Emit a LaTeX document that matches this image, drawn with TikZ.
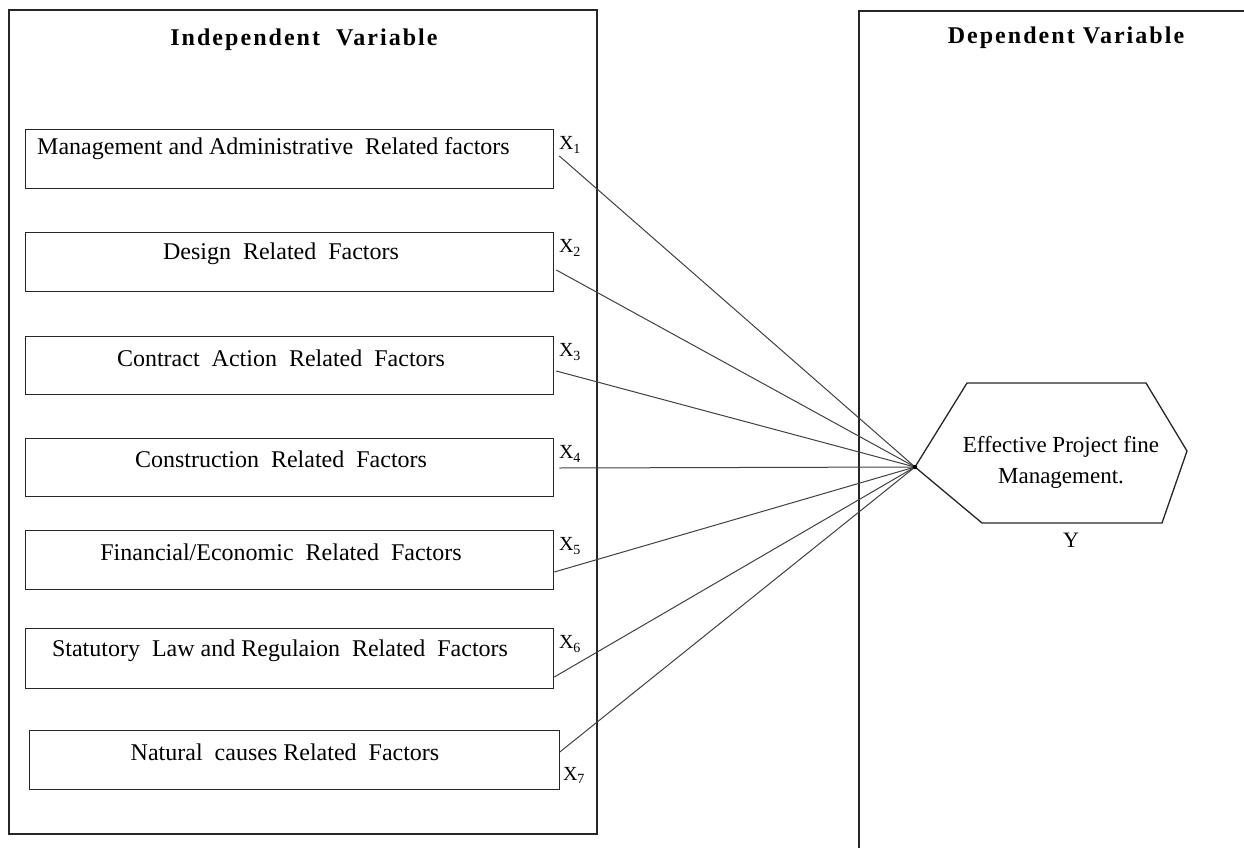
\documentclass[tikz,border=0pt]{standalone}
\usepackage{fontspec}
\setmainfont{Liberation Serif}
\newfontfamily\titlefont[LetterSpace=8.5]{Liberation Serif}
\usetikzlibrary{calc}
\begin{document}
\begin{tikzpicture}[x=1pt,y=-1pt,
  frame/.style={draw=black!85,line width=1.3pt},
  factor/.style={draw=black!85,line width=1.3pt,rectangle,inner sep=0pt,anchor=north west},
  ftext/.style={font=\fontsize{24}{28}\selectfont,inner sep=0pt},
  xlab/.style={font=\fontsize{20}{22}\selectfont,inner sep=0pt},
  title/.style={font=\titlefont\bfseries\fontsize{24}{28}\selectfont,inner sep=0pt},
  link/.style={draw=black!75,line width=1pt}]
\useasboundingbox (0,0) rectangle (1244,848);
% outer frames
\draw[frame] (9,10) rectangle (597,834);
\draw[frame] (859,860) -- (859,11) -- (1260,11);
\node[title] (tI) at (304,40) {Independent\ \ Variable};
\node[title] (tD) at (1066,38) {Dependent Variable};
% factor boxes
\node[factor,minimum width=528.5pt,minimum height=59pt] (b1) at (24.5,129) {};
\node[factor,minimum width=528.5pt,minimum height=59pt] (b2) at (24.5,232) {};
\node[factor,minimum width=528.5pt,minimum height=58pt] (b3) at (24.5,336) {};
\node[factor,minimum width=528.5pt,minimum height=58pt] (b4) at (24.5,438) {};
\node[factor,minimum width=528.5pt,minimum height=59pt] (b5) at (24.5,530) {};
\node[factor,minimum width=528.5pt,minimum height=60pt] (b6) at (24.5,628) {};
\node[factor,minimum width=530pt,minimum height=59pt] (b7) at (28.5,730) {};
% texts
\node[ftext,anchor=west] (t1) at (37,149) {Management and Administrative\ \ Related factors};
\node[ftext] (t2) at (281,254) {Design\ \ Related\ \ Factors};
\node[ftext] (t3) at (281,358) {Contract\ \ Action\ \ Related\ \ Factors};
\node[ftext] (t4) at (281,459) {Construction\ \ Related\ \ Factors};
\node[ftext] (t5) at (281,552) {Financial/Economic\ \ Related\ \ Factors};
\node[ftext] (t6) at (280,651) {Statutory\ \ Law and Regulaion\ \ Related\ \ Factors};
\node[ftext] (t7) at (285,752) {Natural\ \ causes Related\ \ Factors};
% X labels
\node[xlab] (x1) at (570,145) {X\textsubscript{1}};
\node[xlab] (x2) at (570,248) {X\textsubscript{2}};
\node[xlab] (x3) at (570,352) {X\textsubscript{3}};
\node[xlab] (x4) at (570,454) {X\textsubscript{4}};
\node[xlab] (x5) at (570,546) {X\textsubscript{5}};
\node[xlab] (x6) at (570,644) {X\textsubscript{6}};
\node[xlab] (x7) at (574,775) {X\textsubscript{7}};
% hexagon
\coordinate (hub) at (915,467);
\coordinate (h2) at (967,383);
\coordinate (h3) at (1146,383);
\coordinate (h4) at (1187,451);
\coordinate (h5) at (1162,523);
\coordinate (h6) at (982,523);
\draw[draw=black!85,line width=1.3pt,line join=miter] (hub) -- (h2) -- (h3) -- (h4) -- (h5) -- (h6) -- cycle;
\node[ftext,align=center,font=\fontsize{23}{31}\selectfont] (yt) at (1061,462) {Effective Project fine\\Management.};
\node[xlab,font=\fontsize{22}{24}\selectfont] (yl) at (1071,540) {Y};
% connectors
\coordinate (s1) at ($(b1.north east)+(5,27)$);
\coordinate (s2) at ($(b2.north east)+(2,38)$);
\coordinate (s3) at ($(b3.north east)+(2,35)$);
\coordinate (s4) at ($(b4.north east)+(5,30)$);
\coordinate (s5) at ($(b5.north east)+(0,42)$);
\coordinate (s6) at ($(b6.north east)+(0,49)$);
\coordinate (s7) at ($(b7.north east)+(0,22)$);
\foreach \i in {1,...,7} {\draw[link] (s\i) -- (hub);}
\fill (hub) circle (2.2pt);
\end{tikzpicture}
\end{document}
